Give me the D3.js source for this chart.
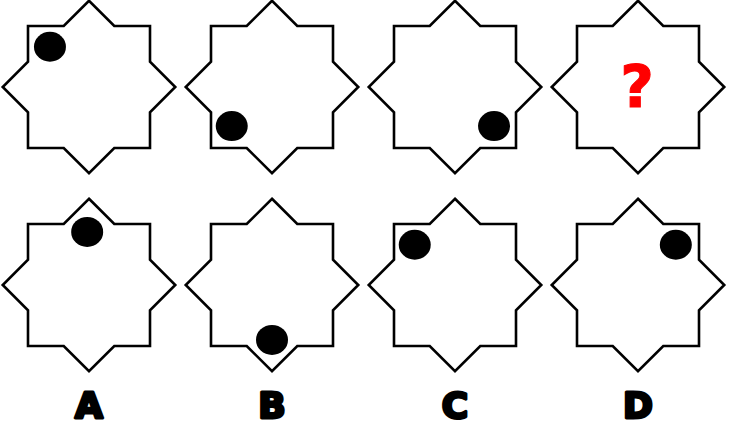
<!DOCTYPE html>
<html>
<head>
<meta charset="utf-8">
<script src="https://cdn.jsdelivr.net/npm/d3@7"></script>
<style>
  body { margin: 0; background: #fff; }
  svg { display: block; }
</style>
</head>
<body>
<div id="chart-container"></div>
<script>
// Puzzle data: dot offsets inside each star, in star units (square half-side = 1)
var puzzleDots = [[-0.64, -0.66], [-0.66, 0.64], [0.64, 0.64]];
var questionMark = "?";
var optionLabels = ["A", "B", "C", "D"];
var optionDots = [[-0.03, -0.87], [0, 0.9], [-0.66, -0.66], [0.62, -0.66]];

var width = 735, height = 434;

var svg = d3.select("#chart-container").append("svg")
  .attr("width", width)
  .attr("height", height);

svg.append("rect").attr("width", width).attr("height", height).attr("fill", "#fff");

// Column and row positions of the stars
var x = d3.scalePoint().domain([0, 1, 2, 3]).range([89, 638]);
var y = d3.scalePoint().domain([0, 1]).range([87, 285]);
// Star units to pixels
var unit = d3.scaleLinear().domain([-1, 1]).range([-61, 61]);

// Outline of a square overlapped by a diamond (8-pointed star)
var tip = Math.SQRT2, notch = Math.SQRT2 - 1;
var starPoints = [
  [0, -tip], [notch, -1], [1, -1], [1, -notch], [tip, 0], [1, notch], [1, 1], [notch, 1],
  [0, tip], [-notch, 1], [-1, 1], [-1, notch], [-tip, 0], [-1, -notch], [-1, -1], [-notch, -1]
];
var line = d3.line().x(d => unit(d[0])).y(d => unit(d[1])).curve(d3.curveLinearClosed);

function drawStar(col, row, dot) {
  var g = svg.append("g").attr("transform", `translate(${x(col)},${y(row)})`);
  g.append("path")
    .attr("d", line(starPoints))
    .attr("fill", "#fff")
    .attr("stroke", "#000")
    .attr("stroke-width", 2.6)
    .attr("stroke-linejoin", "miter");
  if (dot) {
    g.append("ellipse")
      .attr("cx", unit(dot[0]))
      .attr("cy", unit(dot[1]))
      .attr("rx", 16)
      .attr("ry", 15)
      .attr("fill", "#000");
  }
  return g;
}

// Top row: the sequence
puzzleDots.forEach((d, i) => drawStar(i, 0, d));
drawStar(3, 0, null).append("text")
  .attr("x", -1)
  .attr("y", 20)
  .attr("text-anchor", "middle")
  .attr("font-family", "DejaVu Sans")
  .attr("font-weight", "bold")
  .attr("font-size", 58)
  .attr("fill", "#f00")
  .attr("stroke", "#f00")
  .attr("stroke-width", 1)
  .text(questionMark);

// Bottom row: the options
optionDots.forEach((d, i) => drawStar(i, 1, d));

svg.append("g")
  .selectAll("text")
  .data(optionLabels)
  .join("text")
  .attr("x", (d, i) => x(i))
  .attr("y", 418)
  .attr("text-anchor", "middle")
  .attr("font-family", "DejaVu Sans")
  .attr("font-weight", "bold")
  .attr("font-size", 36)
  .attr("fill", "#000")
  .attr("stroke", "#000")
  .attr("stroke-width", 3)
  .attr("stroke-linejoin", "round")
  .text(d => d);
</script>
</body>
</html>
